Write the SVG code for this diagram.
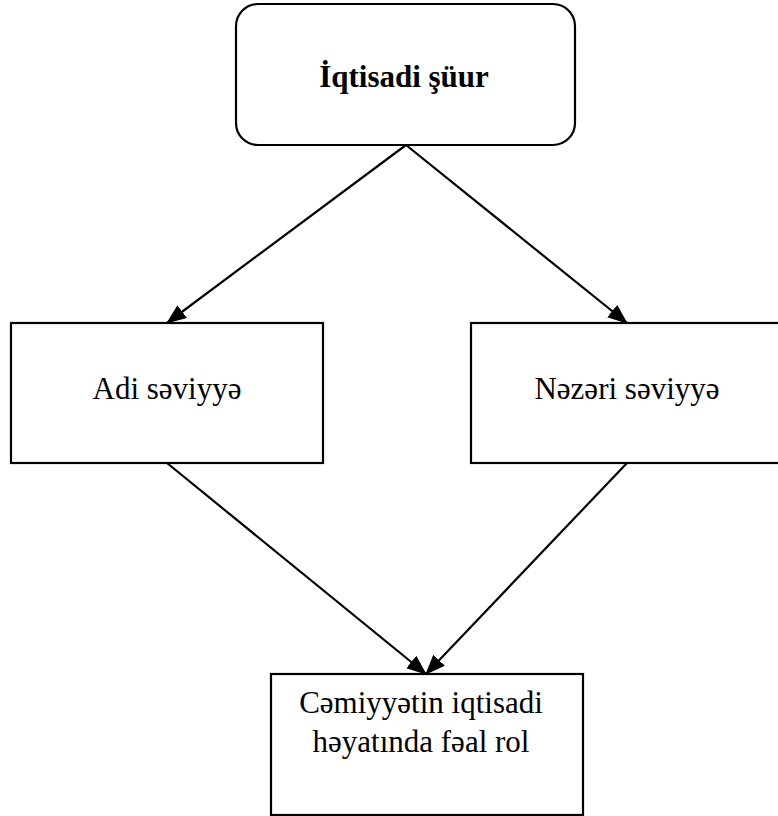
<svg xmlns="http://www.w3.org/2000/svg" width="778" height="816" viewBox="0 0 778 816">
  <style>
    .box { fill: #ffffff; stroke: #000000; stroke-width: 2.2; }
    .lbl { font-family: "Liberation Serif", "DejaVu Serif", "Times New Roman", serif; font-size: 31px; fill: #000000; text-anchor: middle; }
    .bold { font-weight: bold; }
    .edge { stroke: #000000; stroke-width: 2.2; fill: none; marker-end: url(#arrow); }
  </style>
  <defs>
    <marker id="arrow" markerUnits="userSpaceOnUse" markerWidth="20" markerHeight="16" refX="19" refY="8" orient="auto">
      <path d="M0,0 L20,8 L0,16 Z" fill="#000000"/>
    </marker>
  </defs>
  <rect width="778" height="816" fill="#ffffff"/>
  <g id="connectors">
    <line class="edge" x1="406" y1="145" x2="167" y2="323"/>
    <line class="edge" x1="406" y1="145" x2="627" y2="323"/>
    <line class="edge" x1="167" y1="463" x2="426" y2="674"/>
    <line class="edge" x1="627" y1="463" x2="426" y2="674"/>
  </g>
  <g id="node-iqtisadi-suur">
    <rect class="box" x="236" y="4" width="339" height="141" rx="22" ry="22"/>
    <text class="lbl bold" x="404" y="87">İqtisadi şüur</text>
  </g>
  <g id="node-adi-seviyye">
    <rect class="box" x="11" y="323" width="312" height="140"/>
    <text class="lbl" x="167" y="399">Adi səviyyə</text>
  </g>
  <g id="node-nezeri-seviyye">
    <rect class="box" x="471" y="323" width="312" height="140"/>
    <text class="lbl" x="627" y="399">Nəzəri səviyyə</text>
  </g>
  <g id="node-cemiyyetin">
    <rect class="box" x="271" y="674" width="312" height="141"/>
    <text class="lbl" x="421" y="713">Cəmiyyətin iqtisadi</text>
    <text class="lbl" x="421" y="752">həyatında fəal rol</text>
  </g>
</svg>
